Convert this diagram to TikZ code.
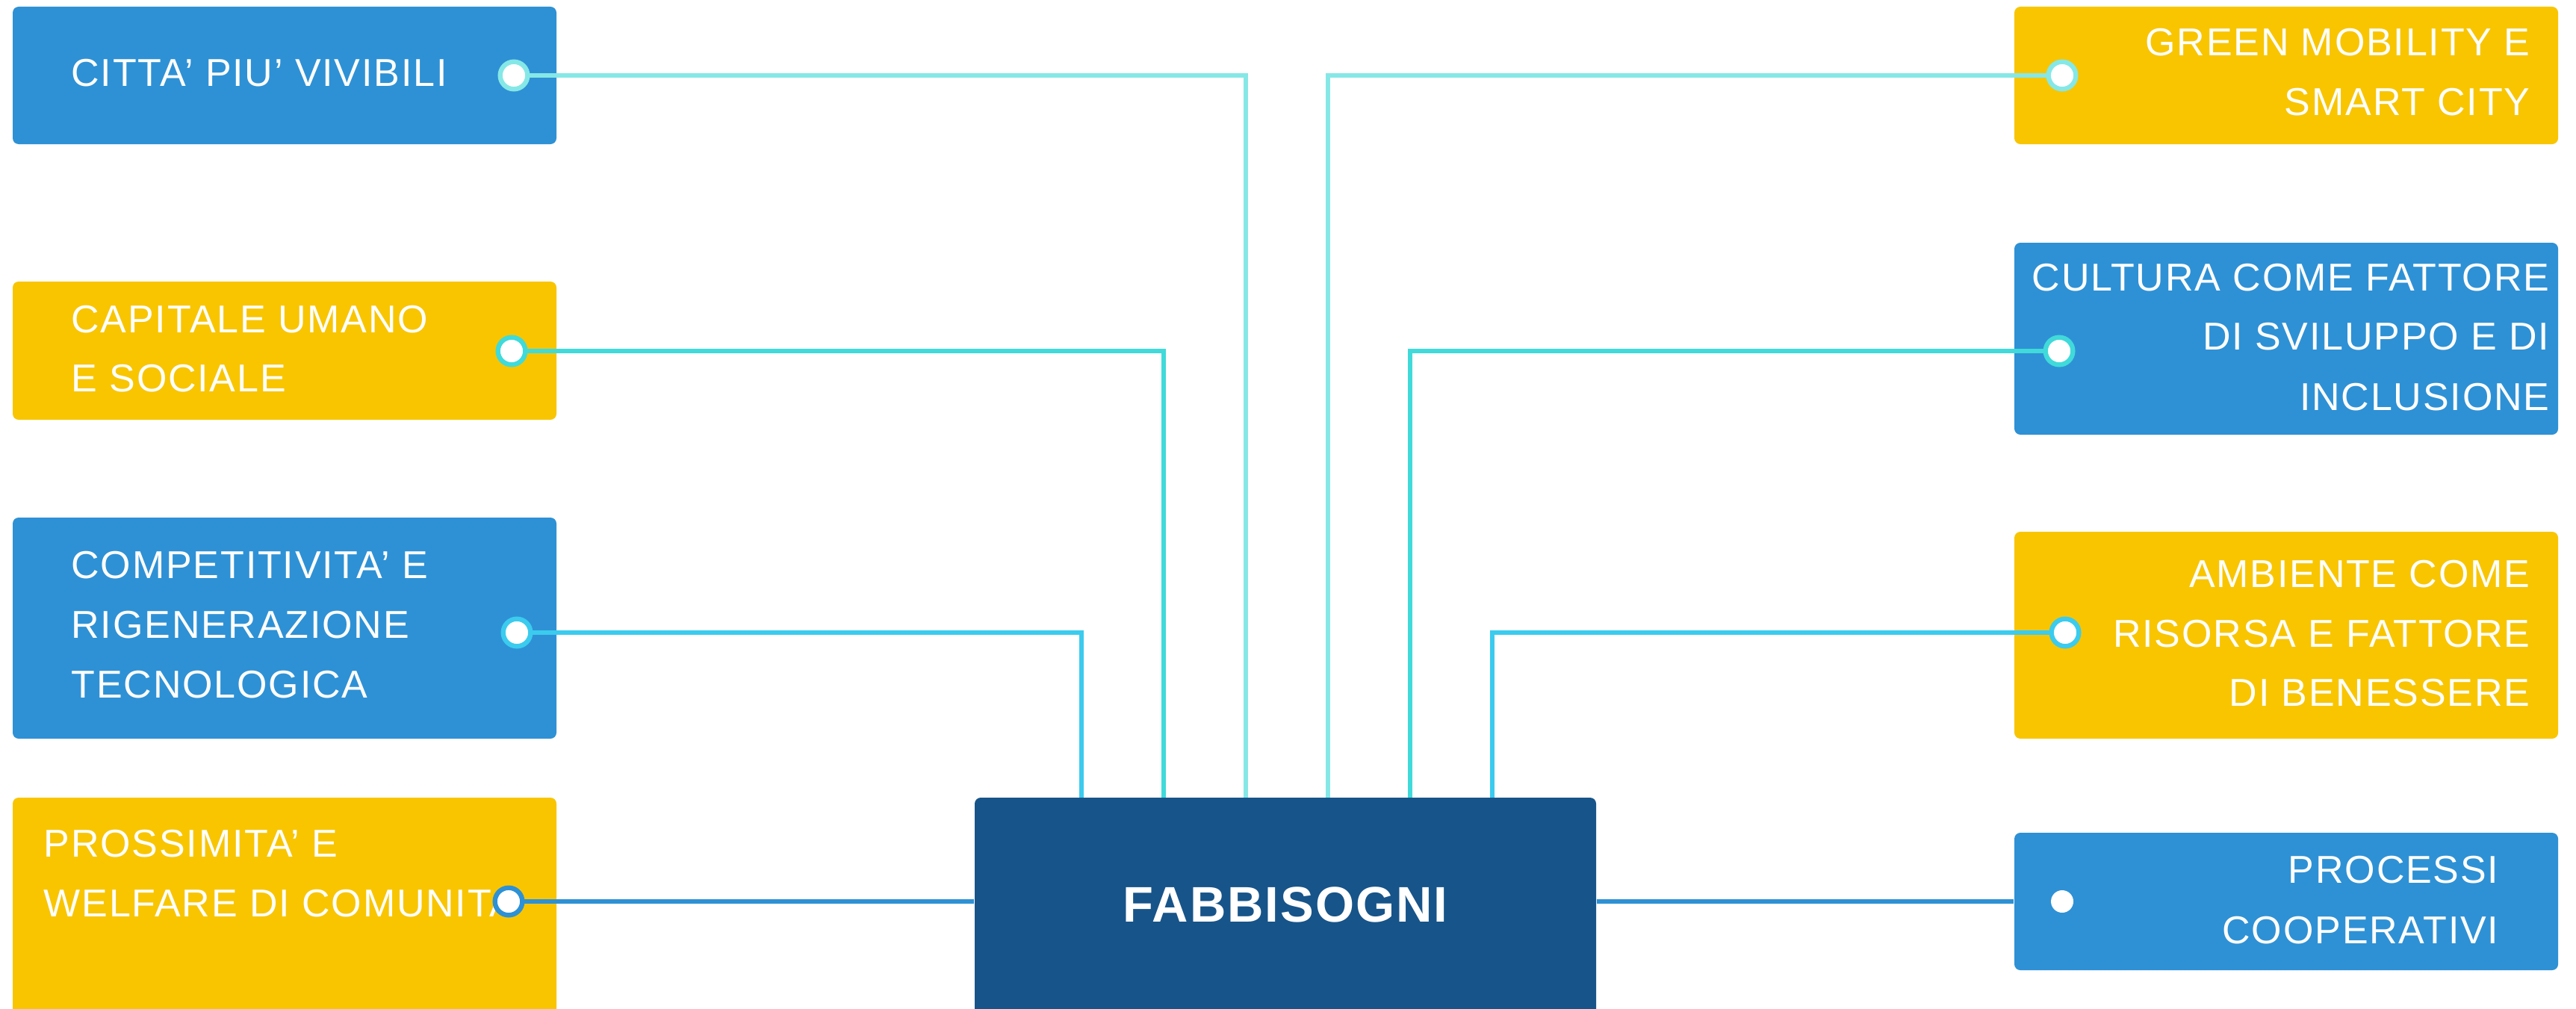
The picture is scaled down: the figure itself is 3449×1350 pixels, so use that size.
\documentclass[tikz,border=0pt]{standalone}
\usepackage{fontspec}
\setmainfont{Liberation Sans}
\newfontfamily\lblfont[LetterSpace=3.5]{Liberation Sans}
\newfontfamily\ttlfont[LetterSpace=3]{Liberation Sans}
\usetikzlibrary{fit}
\definecolor{boxblue}{HTML}{2E91D5}
\definecolor{boxyellow}{HTML}{F8C500}
\definecolor{boxdark}{HTML}{175489}
\definecolor{lnpale}{HTML}{86E8E6}
\definecolor{lnturq}{HTML}{40DADA}
\definecolor{lnsky}{HTML}{3BCBEE}
\definecolor{lnblue}{HTML}{2E91D5}
\tikzset{
  card/.style={rectangle, inner sep=0pt, rounded corners=2.4pt, draw=none},
  bluecard/.style={card, fill=boxblue},
  yellowcard/.style={card, fill=boxyellow},
  darkcard/.style={card, fill=boxdark},
  lbl/.style={text=white, inner sep=0pt, font=\lblfont\fontsize{15.6}{24}\selectfont},
  lblw/.style={lbl, anchor=base west},
  lble/.style={lbl, anchor=base east},
  conn/.style={line width=2pt},
  ring/.style={circle, fill=white, line width=1.9pt, minimum size=11pt, inner sep=0pt},
  dot/.style={circle, fill=white, draw=none, minimum size=9pt, inner sep=0pt},
}
\begin{document}
\begin{tikzpicture}[x=0.3pt,y=-0.3pt]
\useasboundingbox (0,0) rectangle (3449,1350);
\clip (0,0) rectangle (3449,1350);
% cards
\node[bluecard, fit={(17,9) (745,193)}] (b1) {};
\node[yellowcard, fit={(17,377) (745,562)}] (b2) {};
\node[bluecard, fit={(17,693) (745,989)}] (b3) {};
\node[yellowcard, fit={(17,1068) (745,1420)}] (b4) {};
\node[yellowcard, fit={(2697,9) (3425,193)}] (r1) {};
\node[bluecard, fit={(2697,325) (3425,582)}] (r2) {};
\node[yellowcard, fit={(2697,712) (3425,989)}] (r3) {};
\node[bluecard, fit={(2697,1115) (3425,1299)}] (r4) {};
\node[darkcard, fit={(1305,1068) (2137,1420)}] (fab) {};
% texts
\node[lblw] (t1a) at (95,116) {CITTA’ PIU’ VIVIBILI};
\node[lblw] (t2a) at (95,445) {CAPITALE UMANO};
\node[lblw] (t2b) at (95,524) {E SOCIALE};
\node[lblw] (t3a) at (95,774) {COMPETITIVITA’ E};
\node[lblw] (t3b) at (95,854) {RIGENERAZIONE};
\node[lblw] (t3c) at (95,934) {TECNOLOGICA};
\node[lblw] (t4a) at (58,1147) {PROSSIMITA’ E};
\node[lblw] (t4b) at (58,1227) {WELFARE DI COMUNITA’};
\node[lble] (s1a) at (3388,75) {GREEN MOBILITY E};
\node[lble] (s1b) at (3388,155) {SMART CITY};
\node[lble] (s2a) at (3414,389) {CULTURA COME FATTORE};
\node[lble] (s2b) at (3414,468) {DI SVILUPPO E DI};
\node[lble] (s2c) at (3414,549) {INCLUSIONE};
\node[lble] (s3a) at (3388,786) {AMBIENTE COME};
\node[lble] (s3b) at (3388,866) {RISORSA E FATTORE};
\node[lble] (s3c) at (3388,945) {DI BENESSERE};
\node[lble] (s4a) at (3346,1182) {PROCESSI};
\node[lble] (s4b) at (3346,1263) {COOPERATIVI};
\node[text=white, inner sep=0pt, anchor=base, font=\ttlfont\bfseries\fontsize{20.1}{24}\selectfont] (ft) at (1721,1234) {FABBISOGNI};
% connection points
\coordinate (p1) at (688,101);
\coordinate (p2) at (685,470);
\coordinate (p3) at (692,847);
\coordinate (p4) at (681,1207);
\coordinate (q1) at (2761,101);
\coordinate (q2) at (2757,470);
\coordinate (q3) at (2765,847);
\coordinate (q4) at (2761,1207);
\coordinate (u1) at (1668,1068);
\coordinate (u2) at (1558,1068);
\coordinate (u3) at (1448,1068);
\coordinate (v1) at (1778,1068);
\coordinate (v2) at (1888,1068);
\coordinate (v3) at (1998,1068);
% connectors
\draw[conn, lnpale] (p1) -| (u1);
\draw[conn, lnturq] (p2) -| (u2);
\draw[conn, lnsky] (p3) -| (u3);
\draw[conn, lnblue] (p4) -- (p4 -| fab.west);
\draw[conn, lnpale] (q1) -| (v1);
\draw[conn, lnturq] (q2) -| (v2);
\draw[conn, lnsky] (q3) -| (v3);
\draw[conn, lnblue] (fab.east |- q4) -- (r4.west |- q4);
% rings
\node[ring, draw=lnpale] (c1) at (p1) {};
\node[ring, draw=lnturq] (c2) at (p2) {};
\node[ring, draw=lnsky] (c3) at (p3) {};
\node[ring, draw=lnblue] (c4) at (p4) {};
\node[ring, draw=lnpale] (d1) at (q1) {};
\node[ring, draw=lnturq] (d2) at (q2) {};
\node[ring, draw=lnsky] (d3) at (q3) {};
\node[dot] (d4) at (q4) {};
\end{tikzpicture}
\end{document}
